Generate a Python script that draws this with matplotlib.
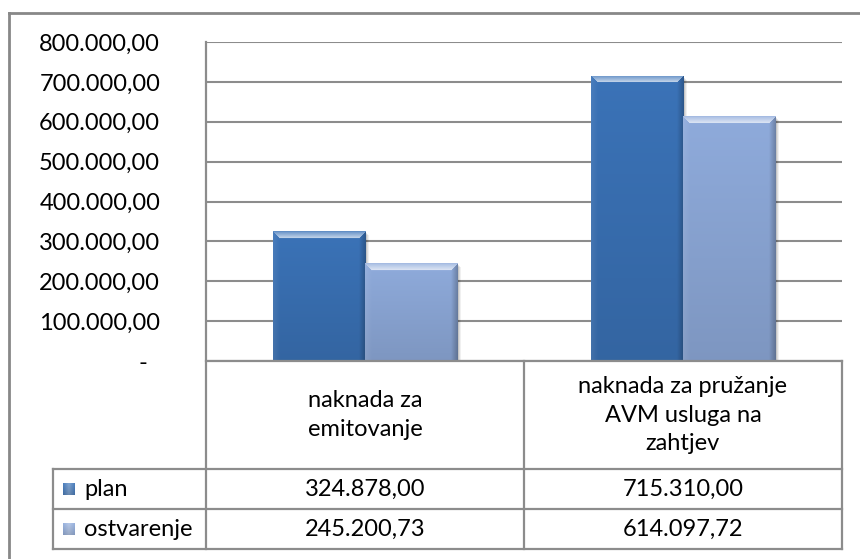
import numpy as np
import matplotlib
matplotlib.use("Agg")
import matplotlib.pyplot as plt
from matplotlib.lines import Line2D
from matplotlib.patches import Rectangle

# data
categories = ["naknada za\nemitovanje", "naknada za pružanje\nAVM usluga na\nzahtjev"]
series = ["plan", "ostvarenje"]
plan = [324878.00, 715310.00]
ostvarenje = [245200.73, 614097.72]
yticks = [0, 100000, 200000, 300000, 400000, 500000, 600000, 700000, 800000]

colors = {"plan": (0.23, 0.45, 0.72), "ostvarenje": (0.56, 0.67, 0.86)}
grid_col = "#8c8c8c"
txt_col = "#000000"
plt.rcParams["font.family"] = ["Lato", "DejaVu Sans"]
FS = 17

W, H = 860, 559
fig = plt.figure(figsize=(W / 100, H / 100), dpi=100)


def fx(px):
    return px / W


def fy(py):
    return 1 - py / H


def fmt(v):
    if v == 0:
        return "-"
    s = f"{v:,.2f}"
    return s.replace(",", "X").replace(".", ",").replace("X", ".")


# layout in pixels
PL, PR, PT, PB = 206, 842, 42, 361
TL = 53
rows = [361, 469, 509, 549]
cols = [TL, PL, (PL + PR) / 2, PR]

ax = fig.add_axes([fx(PL), fy(PB), fx(PR - PL), (PB - PT) / H])
ax.set_xlim(-0.5, 1.5)
ax.set_ylim(0, 800000)
for s in ax.spines.values():
    s.set_visible(False)
ax.set_xticks([])
ax.set_yticks(yticks)
ax.yaxis.set_major_formatter(plt.FuncFormatter(lambda v, p: fmt(v)))
ax.tick_params(axis="y", length=0, pad=33, labelsize=FS, labelcolor=txt_col)
ax.grid(axis="y", color=grid_col, lw=1.5)
ax.set_axisbelow(True)

# move the "-" for zero a bit left like the reference
for lab in ax.get_yticklabels():
    if lab.get_text() == "-":
        lab.set_x(-0.02)

px_per_x = (PR - PL) / 2.0
px_per_y = (PB - PT) / 800000.0


def shade(rgb, amt):
    rgb = np.asarray(rgb)
    if amt >= 0:
        return rgb + (1 - rgb) * amt
    return rgb * (1 + amt)


def bevel_bar(x0, w, h, rgb):
    # soft shadow
    for k, a in [(4, 0.06), (3, 0.08), (2, 0.1)]:
        ax.add_patch(Rectangle((x0 + k / px_per_x, -k / px_per_y), w, h,
                               fc="black", ec="none", alpha=a, zorder=2))
    rect = Rectangle((x0, 0), w, h, fc=rgb, ec="none", zorder=3)
    ax.add_patch(rect)
    nx = max(int(w * px_per_x), 2)
    ny = max(int(h * px_per_y), 2)
    xx, yy = np.meshgrid(np.arange(nx) + 0.5, np.arange(ny) + 0.5)
    dl, dr, dt = xx, nx - xx, yy
    b = 7.0
    img = np.zeros((ny, nx, 3))
    t = yy / ny
    for c in range(3):
        img[..., c] = rgb[c] * (1.0 - 0.12 * t)
    dmin = np.minimum(np.minimum(dl, dr), dt)
    top = (dt <= dl) & (dt <= dr) & (dmin < b)
    left = (dl < dt) & (dl <= dr) & (dmin < b)
    right = (dr < dt) & (dr < dl) & (dmin < b)
    f = 1 - dmin / b
    for c in range(3):
        ch = img[..., c]
        ch[top] = ch[top] + (1 - ch[top]) * (0.2 + 0.5 * (1 - f[top]) * (dt[top] > 1))
        ch[left] = ch[left] + (1 - ch[left]) * 0.08 * f[left]
        ch[right] = ch[right] * (1 - 0.25 * f[right])
    img = np.clip(img, 0, 1)
    im = ax.imshow(img, extent=[x0, x0 + w, 0, h], origin="upper",
                   aspect="auto", zorder=4, interpolation="bilinear")
    im.set_clip_path(rect)


bw = 0.29
for i in range(len(categories)):
    bevel_bar(i - bw, bw, plan[i], colors["plan"])
    bevel_bar(i, bw, ostvarenje[i], colors["ostvarenje"])
ax.set_xlim(-0.5, 1.5)
ax.set_ylim(0, 800000)

# outer frame and table lines
lw = 1.6


def fline(x1, y1, x2, y2, col=grid_col, w=lw):
    fig.add_artist(Line2D([fx(x1), fx(x2)], [fy(y1), fy(y2)], color=col, lw=w,
                          transform=fig.transFigure, zorder=10))


fline(9, 13, W, 13, "#888888", 2)
fline(9, 13, 9, H, "#888888", 2)
fline(PL, PT, PL, rows[-1])
fline(PL, rows[0], PR, rows[0])
for r in rows[1:]:
    fline(TL, r, PR, r)
fline(TL, rows[1], TL, rows[-1])
fline(cols[2], rows[0], cols[2], rows[-1])
fline(PR, rows[0], PR, rows[-1])

# header cells
for i, cat in enumerate(categories):
    cx = (cols[i + 1] + cols[i + 2]) / 2
    fig.text(fx(cx), fy((rows[0] + rows[1]) / 2), cat, ha="center", va="center",
             fontsize=FS, linespacing=1.45, color=txt_col)

# value rows with legend keys
for j, (name, vals) in enumerate([("plan", plan), ("ostvarenje", ostvarenje)]):
    yc = (rows[j + 1] + rows[j + 2]) / 2
    sq = 12
    key = fig.add_axes([fx(63), fy(yc + sq / 2), fx(sq), sq / H])
    g = np.linspace(0, 1, 12)
    kimg = np.array([[shade(colors[name], 0.35 - 0.5 * abs(a - 0.5)) * (1 - 0.15 * r)
                      for a in g] for r in g])
    key.imshow(np.clip(kimg, 0, 1), aspect="auto", interpolation="bilinear")
    key.axis("off")
    fig.text(fx(84), fy(yc), name, ha="left", va="center", fontsize=FS,
             color=txt_col)
    for i, v in enumerate(vals):
        cx = (cols[i + 1] + cols[i + 2]) / 2
        fig.text(fx(cx), fy(yc), fmt(v), ha="center", va="center", fontsize=FS,
                 color=txt_col)

fig.savefig("out.png", dpi=100)
